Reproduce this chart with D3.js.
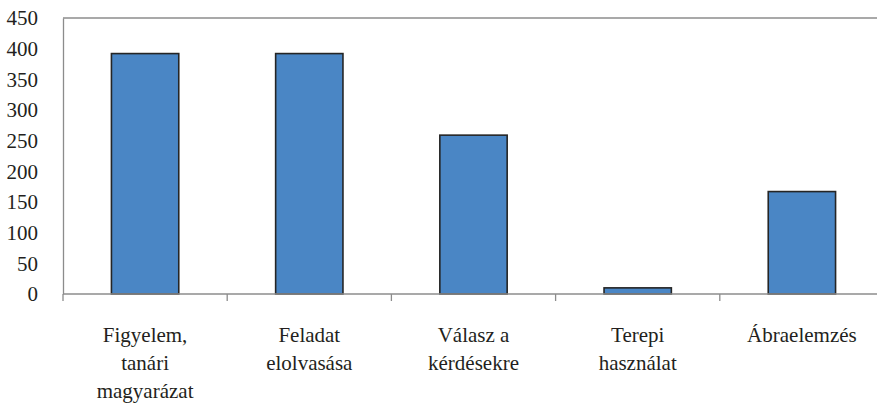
<!DOCTYPE html>
<html>
<head>
<meta charset="utf-8">
<script src="https://cdn.jsdelivr.net/npm/d3@7"></script>
<style>
  body { margin: 0; background: #fff; }
</style>
</head>
<body>
<div id="chart"></div>
<script>
const categories = [
  ['Figyelem,', 'tanári', 'magyarázat'],
  ['Feladat', 'elolvasása'],
  ['Válasz a', 'kérdésekre'],
  ['Terepi', 'használat'],
  ['Ábraelemzés']
];
const values = [392, 392, 259, 10, 167];
const yTicks = [0, 50, 100, 150, 200, 250, 300, 350, 400, 450];

const fontFamily = 'Times New Roman';

const totalWidth = 877;
const totalHeight = 409;
const margin = { top: 18, left: 63 };
const plotWidth = 821;
const plotHeight = 276;

const svg = d3.select('#chart').append('svg')
    .attr('width', totalWidth)
    .attr('height', totalHeight);

const g = svg.append('g')
    .attr('transform', `translate(${margin.left},${margin.top})`);

const x = d3.scaleBand()
    .domain(d3.range(categories.length))
    .range([0, plotWidth])
    .paddingInner(0.59)
    .paddingOuter(0.295);

const y = d3.scaleLinear()
    .domain([0, 450])
    .range([plotHeight, 0]);

// top border line at 450
g.append('line')
    .attr('x1', 0)
    .attr('x2', plotWidth)
    .attr('y1', y(450))
    .attr('y2', y(450))
    .attr('stroke', '#8c8c8c')
    .attr('stroke-width', 1.3);

// y axis
const yAxis = g.append('g')
    .call(d3.axisLeft(y).tickValues(yTicks).tickSize(0).tickPadding(25));
yAxis.attr('font-family', null).attr('font-size', null);
yAxis.select('.domain').attr('stroke', '#8c8c8c').attr('stroke-width', 1.3);
yAxis.selectAll('text')
    .style('font-family', `'${fontFamily}'`)
    .style('font-size', '21px')
    .attr('fill', '#231f20');

// bars
g.selectAll('.bar')
  .data(values)
  .join('rect')
    .attr('class', 'bar')
    .attr('x', (d, i) => x(i))
    .attr('y', d => y(d))
    .attr('width', x.bandwidth())
    .attr('height', d => y(0) - y(d))
    .attr('fill', '#4a86c5')
    .attr('stroke', '#252525')
    .attr('stroke-width', 1.6);

// x axis
const step = x.step();
const xAxis = g.append('g')
    .attr('transform', `translate(0,${plotHeight})`);

xAxis.append('line')
    .attr('x1', 0)
    .attr('x2', plotWidth)
    .attr('stroke', '#8c8c8c')
    .attr('stroke-width', 1.3);

xAxis.selectAll('.tick')
  .data(d3.range(categories.length + 1))
  .join('line')
    .attr('class', 'tick')
    .attr('x1', d => d * step)
    .attr('x2', d => d * step)
    .attr('y1', 0)
    .attr('y2', 7)
    .attr('stroke', '#8c8c8c')
    .attr('stroke-width', 1.3);

xAxis.selectAll('.label')
  .data(categories)
  .join('text')
    .attr('class', 'label')
    .attr('text-anchor', 'middle')
    .style('font-family', `'${fontFamily}'`)
    .style('font-size', '21px')
    .attr('fill', '#231f20')
    .attr('x', (d, i) => x(i) + x.bandwidth() / 2)
  .selectAll('tspan')
    .data(d => d)
    .join('tspan')
      .attr('x', function() { return this.parentNode.getAttribute('x'); })
      .attr('y', (d, i) => 48 + i * 28)
      .text(d => d);
</script>
</body>
</html>
